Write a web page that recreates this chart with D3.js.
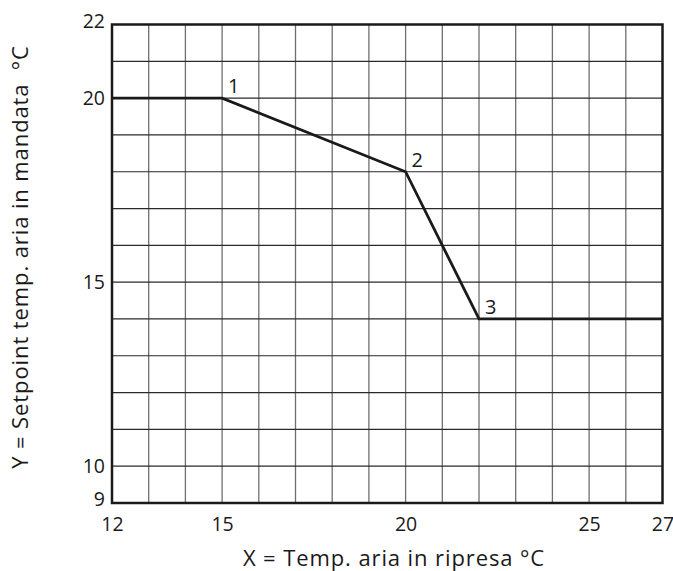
<!DOCTYPE html>
<html><head><meta charset="utf-8">
<script src="https://cdn.jsdelivr.net/npm/d3@7"></script>
<style>body{margin:0;background:#fff;} svg{display:block;font-family:"Open Sans","Noto Sans",sans-serif;}</style>
</head><body>
<svg id="c" width="673" height="571"></svg>
<script>
const xs = [12, 15, 20, 22, 27];
const ys = [20, 20, 18, 14, 14];
const pointLabels = ["", "1", "2", "3", ""];
const xTicks = [12, 15, 20, 25, 27];
const yTicks = [9, 10, 15, 20, 22];
const xLabel = "X = Temp. aria in ripresa °C";
const yLabel = "Y = Setpoint temp. aria in mandata\u00a0\u00a0°C";

const svg = d3.select("#c");
const m = {l:112, r:662.5, t:24.5, b:503};
const x = d3.scaleLinear().domain([12,27]).range([m.l, m.r]);
const y = d3.scaleLinear().domain([9,22]).range([m.b, m.t]);
const FF = "'Open Sans','Noto Sans',sans-serif";

const g = svg.append("g");
g.selectAll(".vx").data(d3.range(13,27)).enter().append("line")
  .attr("x1",d=>x(d)).attr("x2",d=>x(d)).attr("y1",m.t).attr("y2",m.b)
  .attr("stroke","#6f6f6f").attr("stroke-width",1.3);
g.selectAll(".hy").data(d3.range(10,22)).enter().append("line")
  .attr("y1",d=>y(d)).attr("y2",d=>y(d)).attr("x1",m.l).attr("x2",m.r)
  .attr("stroke","#2a2a2a").attr("stroke-width",1.2);
g.append("rect").attr("x",m.l).attr("y",m.t).attr("width",m.r-m.l).attr("height",m.b-m.t)
  .attr("fill","none").attr("stroke","#1a1a1a").attr("stroke-width",2.5);

const xa = d3.axisBottom(x).tickValues(xTicks).tickSize(0).tickPadding(14);
const xg = svg.append("g").attr("transform",`translate(0,${m.b})`).call(xa);
xg.select(".domain").remove();
xg.selectAll("text").attr("font-size",19.5).attr("fill","#1a1a1a").attr("font-family",FF);
const ya = d3.axisLeft(y).tickValues(yTicks).tickSize(0).tickPadding(7);
const yg = svg.append("g").attr("transform",`translate(${m.l},0)`).call(ya);
yg.select(".domain").remove();
yg.selectAll("text").attr("font-size",19.5).attr("fill","#1a1a1a").attr("font-family",FF);
yg.selectAll(".tick").filter(d=>d===9).select("text").attr("dy","0.12em");
yg.selectAll(".tick").filter(d=>d===22).select("text").attr("dy","0.17em");

const pts = xs.map((v,i)=>[v,ys[i]]);
svg.append("path").datum(pts)
  .attr("d", d3.line().x(d=>x(d[0])).y(d=>y(d[1])))
  .attr("fill","none").attr("stroke","#1a1a1a").attr("stroke-width",2.8).attr("stroke-linejoin","miter");

svg.selectAll(".pl").data(pts.map((p,i)=>({p, t:pointLabels[i]})).filter(d=>d.t)).enter().append("text")
  .attr("x",d=>x(d.p[0])+6).attr("y",d=>y(d.p[1])-5)
  .attr("font-size",20).attr("font-family",FF).attr("fill","#1a1a1a").text(d=>d.t);

svg.append("text").attr("x",394).attr("y",566).attr("text-anchor","middle")
  .attr("font-size",22).attr("letter-spacing",0.9).attr("font-family",FF).attr("fill","#1a1a1a").text(xLabel);
svg.append("text").attr("transform","translate(28,257) rotate(-90)").attr("text-anchor","middle")
  .attr("font-size",22).attr("letter-spacing",0.9).attr("font-family",FF).attr("fill","#1a1a1a").text(yLabel);
</script>
</body></html>
